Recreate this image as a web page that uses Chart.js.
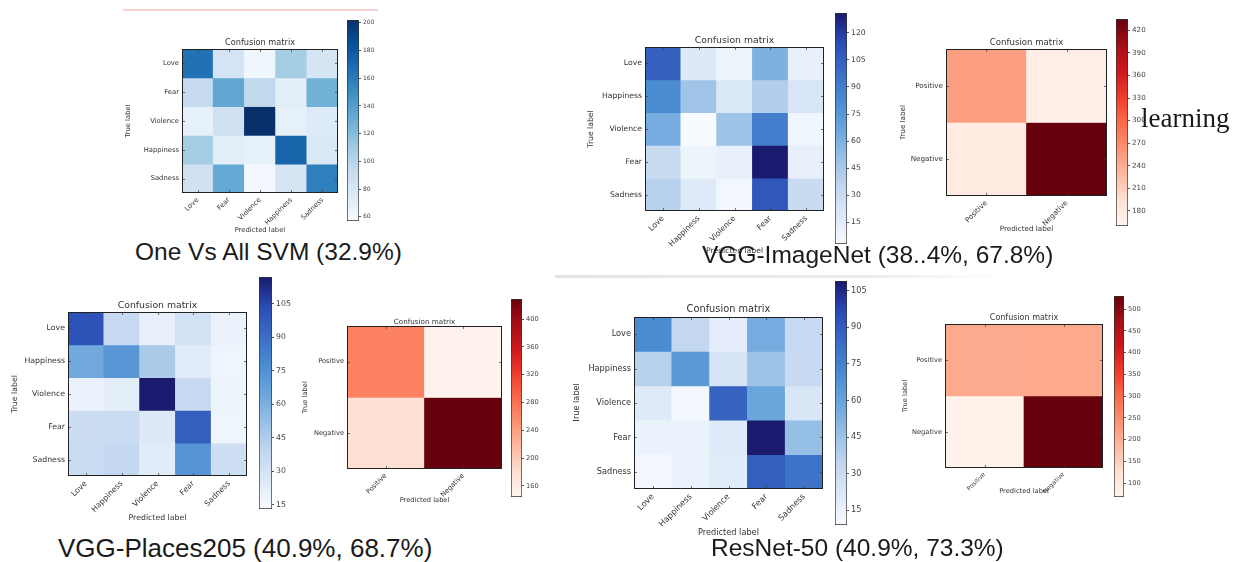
<!DOCTYPE html>
<html>
<head>
<meta charset="utf-8">
<script src="https://cdn.jsdelivr.net/npm/chart.js@4.4.0/dist/chart.umd.min.js"></script>
<style>
  html, body { margin: 0; padding: 0; background: #fff; overflow: hidden; }
  #page { position: relative; width: 1237px; height: 562px; }
  canvas { position: absolute; }
  .cap { position: absolute; font-family: 'Liberation Sans', Arial, sans-serif; color: #1a1a1a; white-space: nowrap; line-height: 1; }
</style>
</head>
<body>
<div id="page"></div>
<script>
// labels
const emoRowsSvm = ['Love', 'Fear', 'Violence', 'Happiness', 'Sadness'];
const emoRowsCnn = ['Love', 'Happiness', 'Violence', 'Fear', 'Sadness'];
const binRows = ['Positive', 'Negative'];

// confusion values, rows = true label, cols = predicted label
const svmValues = [
  [166, 83, 63, 108, 82],
  [93, 134, 95, 72, 127],
  [69, 86, 202, 70, 76],
  [108, 72, 70, 173, 79],
  [86, 132, 60, 82, 158]
];
const imagenetValues = [
  [105, 18, 9, 60, 13],
  [82, 48, 20, 41, 22],
  [63, 3, 49, 90, 7],
  [31, 9, 12, 131, 13],
  [39, 17, 6, 109, 31]
];
const imagenetBinValues = [
  [252, 172],
  [176, 435]
];
const placesValues = [
  [101, 36, 21, 31, 19],
  [63, 72, 46, 23, 17],
  [19, 22, 117, 36, 18],
  [34, 35, 25, 96, 17],
  [35, 38, 23, 73, 33]
];
const placesBinValues = [
  [265, 150],
  [178, 429]
];
const resnetValues = [
  [71, 33, 18, 56, 31],
  [37, 65, 24, 45, 31],
  [20, 11, 87, 59, 23],
  [15, 15, 20, 109, 47],
  [11, 15, 19, 89, 81]
];
const resnetBinValues = [
  [207, 209],
  [77, 530]
];

// colour bar ranges and tick labels
const svmRange = [57, 202];
const svmTicks = [60, 80, 100, 120, 140, 160, 180, 200];
const imagenetRange = [3, 131];
const imagenetTicks = [15, 30, 45, 60, 75, 90, 105, 120];
const imagenetBinRange = [160, 435];
const imagenetBinTicks = [180, 210, 240, 270, 300, 330, 360, 390, 420];
const placesRange = [13, 117];
const placesTicks = [15, 30, 45, 60, 75, 90, 105];
const placesBinRange = [144, 429];
const placesBinTicks = [160, 200, 240, 280, 320, 360, 400];
const resnetRange = [9, 109];
const resnetTicks = [15, 30, 45, 60, 75, 90, 105];
const resnetBinRange = [68, 530];
const resnetBinTicks = [100, 150, 200, 250, 300, 350, 400, 450, 500];

const captions = [
  'One Vs All SVM (32.9%)',
  'VGG-ImageNet (38..4%, 67.8%)',
  'VGG-Places205 (40.9%, 68.7%)',
  'ResNet-50 (40.9%, 73.3%)'
];

// colour maps
const BLUES = ['#f7fbff', '#deebf7', '#c6dbef', '#9ecae1', '#6baed6', '#4292c6', '#2171b5', '#08519c', '#08306b'];
const BLUES2 = ['#f7fbff', '#dce8f7', '#c2d6ef', '#98c0e6', '#6aa5dc', '#4a8ad0', '#3a6cc4', '#2a4bb5', '#1a1a6e'];
const REDS = ['#fff5f0', '#fee0d2', '#fcbba1', '#fc9272', '#fb6a4a', '#ef3b2c', '#cb181d', '#a50f15', '#67000d'];

const FONT = "'DejaVu Sans', sans-serif";
Chart.defaults.font.family = FONT;
Chart.defaults.color = '#333';

function hexRgb(h) {
  return [parseInt(h.slice(1, 3), 16), parseInt(h.slice(3, 5), 16), parseInt(h.slice(5, 7), 16)];
}
function cmap(stops, t) {
  t = Math.max(0, Math.min(1, t));
  const f = t * (stops.length - 1);
  const i = Math.min(Math.floor(f), stops.length - 2);
  const a = hexRgb(stops[i]), b = hexRgb(stops[i + 1]);
  const k = f - i;
  const c = a.map((v, j) => Math.round(v + (b[j] - v) * k));
  return `rgb(${c[0]},${c[1]},${c[2]})`;
}

function makeCanvas(x, y, w, h) {
  const c = document.createElement('canvas');
  x = Math.round(x); y = Math.round(y); w = Math.round(w); h = Math.round(h);
  c.width = w; c.height = h;
  c.style.left = x + 'px'; c.style.top = y + 'px';
  c.style.width = w + 'px'; c.style.height = h + 'px';
  document.getElementById('page').appendChild(c);
  return c;
}

// frame + small inward ticks like matplotlib
const framePlugin = {
  id: 'frame',
  afterDatasetsDraw(chart) {
    const { ctx, chartArea: a, scales: { x, y } } = chart;
    ctx.save();
    ctx.strokeStyle = 'rgba(60,60,60,0.7)';
    ctx.lineWidth = 1;
    ctx.beginPath();
    x.ticks.forEach((t, i) => {
      const px = Math.round(x.getPixelForTick(i)) + 0.5;
      ctx.moveTo(px, a.top); ctx.lineTo(px, a.top + 3);
      ctx.moveTo(px, a.bottom); ctx.lineTo(px, a.bottom - 3);
    });
    y.ticks.forEach((t, i) => {
      const py = Math.round(y.getPixelForTick(i)) + 0.5;
      ctx.moveTo(a.left, py); ctx.lineTo(a.left + 3, py);
      ctx.moveTo(a.right, py); ctx.lineTo(a.right - 3, py);
    });
    ctx.stroke();
    ctx.strokeStyle = '#222';
    ctx.strokeRect(Math.round(a.left) + 0.5, Math.round(a.top) + 0.5, Math.round(a.width) - 1, Math.round(a.height) - 1);
    ctx.restore();
  }
};

// "Confusion matrix" centred over the plot area (not the whole canvas)
const cmTitlePlugin = {
  id: 'cmTitle',
  afterDraw(chart, args, o) {
    const { ctx, chartArea: a } = chart;
    ctx.save();
    ctx.font = `${o.size}px ${FONT}`;
    ctx.fillStyle = '#333';
    ctx.textAlign = 'center';
    ctx.textBaseline = 'middle';
    ctx.fillText(o.text, (a.left + a.right) / 2, o.y);
    ctx.restore();
  }
};

function heatmap(p) {
  const tH = 20;
  const top = p.T - tH;
  const cv = makeCanvas(p.L - p.yW, top, p.yW + p.W + 2, tH + p.H + p.bH);
  const [lo, hi] = p.range;
  const xFont = p.fsX || p.fsTick;
  new Chart(cv, {
    type: 'bar',
    data: {
      labels: p.rows,
      datasets: p.values.map((row, r) => ({
        label: p.rows[r],
        data: row.map(() => 1),
        backgroundColor: row.map(v => cmap(p.cmap, (v - lo) / (hi - lo))),
        borderWidth: 0,
        barPercentage: 1,
        categoryPercentage: 1
      }))
    },
    options: {
      responsive: false,
      animation: false,
      layout: { padding: { left: 0, right: 2, top: tH, bottom: 0 } },
      plugins: {
        legend: { display: false },
        tooltip: { enabled: false },
        cmTitle: { text: 'Confusion matrix', size: p.fsTitle, y: p.titleY - top }
      },
      scales: {
        x: {
          stacked: true,
          grid: { display: false, drawTicks: false },
          border: { display: false },
          ticks: { minRotation: 45, maxRotation: 45, autoSkip: false, padding: 3, font: { size: xFont }, color: '#333' },
          title: { display: true, text: 'Predicted label', color: '#333', font: { size: p.fsTick, lineHeight: 1 }, padding: 0 },
          afterFit: s => { s.height = p.bH; }
        },
        y: {
          stacked: true,
          min: 0,
          max: p.rows.length,
          reverse: true,
          grid: { display: false, drawTicks: false },
          border: { display: false },
          afterBuildTicks: s => { s.ticks = p.rows.map((_, i) => ({ value: i + 0.5 })); },
          ticks: { autoSkip: false, padding: 3, font: { size: p.fsTick }, color: '#333', callback: (v, i) => p.rows[i] },
          title: { display: true, text: 'True label', color: '#333', font: { size: p.fsTick, lineHeight: 1 }, padding: 0 },
          afterFit: s => { s.width = p.yW; }
        }
      }
    },
    plugins: [framePlugin, cmTitlePlugin]
  });
}

function colorbar(p) {
  const c = p.cb;
  const labW = 28;
  const cv = makeCanvas(c.x, c.y - 8, c.w + labW, c.h + 16);
  new Chart(cv, {
    type: 'bar',
    data: {
      labels: [''],
      datasets: [{
        data: [p.range],
        backgroundColor: ctx => {
          const a = ctx.chart.chartArea;
          if (!a) return p.cmap[0];
          const g = ctx.chart.ctx.createLinearGradient(0, a.bottom, 0, a.top);
          p.cmap.forEach((s, i) => g.addColorStop(i / (p.cmap.length - 1), s));
          return g;
        },
        borderColor: '#333',
        borderWidth: 1,
        borderSkipped: false,
        barPercentage: 1,
        categoryPercentage: 1
      }]
    },
    options: {
      responsive: false,
      animation: false,
      layout: { padding: { left: 0, right: 0, top: 8, bottom: 8 } },
      plugins: { legend: { display: false }, tooltip: { enabled: false } },
      scales: {
        x: { display: false },
        y: {
          position: 'right',
          min: p.range[0],
          max: p.range[1],
          grid: { drawOnChartArea: false, drawTicks: true, tickLength: 2, color: '#555' },
          border: { display: false },
          afterBuildTicks: s => { s.ticks = p.ticks.map(v => ({ value: v })); },
          ticks: { padding: 2, font: { size: p.fsCb || p.fsTick }, color: '#444' },
          afterFit: s => { s.width = labW; }
        }
      }
    }
  });
}

const panels = [
  { values: svmValues, rows: emoRowsSvm, range: svmRange, ticks: svmTicks, cmap: BLUES,
    L: 182, T: 49, W: 156, H: 144, yW: 57, bH: 41, titleY: 43, fsTitle: 8.2, fsTick: 6.8, fsCb: 6,
    cb: { x: 347, y: 20, w: 12, h: 201 } },
  { values: imagenetValues, rows: emoRowsCnn, range: imagenetRange, ticks: imagenetTicks, cmap: BLUES2,
    L: 645, T: 47, W: 179, H: 164, yW: 58, bH: 44, titleY: 41, fsTitle: 9.3, fsTick: 7.7,
    cb: { x: 835, y: 13, w: 12, h: 231 } },
  { values: imagenetBinValues, rows: binRows, range: imagenetBinRange, ticks: imagenetBinTicks, cmap: REDS,
    L: 946, T: 49, W: 161, H: 147, yW: 46, bH: 37, titleY: 43, fsTitle: 8.6, fsTick: 7.2,
    cb: { x: 1116, y: 19, w: 12, h: 207 } },
  { values: placesValues, rows: emoRowsCnn, range: placesRange, ticks: placesTicks, cmap: BLUES2,
    L: 68, T: 312, W: 179, H: 164, yW: 57, bH: 46, titleY: 306, fsTitle: 9.3, fsTick: 7.8,
    cb: { x: 259, y: 277, w: 13, h: 232 } },
  { values: placesBinValues, rows: binRows, range: placesBinRange, ticks: placesBinTicks, cmap: REDS,
    L: 347, T: 326, W: 155, H: 143, yW: 45, bH: 35, titleY: 322, fsTitle: 7.2, fsTick: 6.7,
    cb: { x: 511, y: 299, w: 11, h: 198 } },
  { values: resnetValues, rows: emoRowsCnn, range: resnetRange, ticks: resnetTicks, cmap: BLUES2,
    L: 634, T: 317, W: 189, H: 172, yW: 61, bH: 48, titleY: 309, fsTitle: 9.8, fsTick: 8.2,
    cb: { x: 835, y: 281, w: 12, h: 244 } },
  { values: resnetBinValues, rows: binRows, range: resnetBinRange, ticks: resnetBinTicks, cmap: REDS,
    L: 945, T: 324, W: 158, H: 144, yW: 43, bH: 27, titleY: 318, fsTitle: 8, fsTick: 6.7, fsX: 6,
    cb: { x: 1114, y: 296, w: 10, h: 201 } }
];

panels.forEach(p => { heatmap(p); colorbar(p); });

// captions and page decorations
const page = document.getElementById('page');
function addText(text, left, baseline, size, family) {
  const d = document.createElement('div');
  d.className = 'cap';
  if (family) d.style.fontFamily = family;
  d.style.fontSize = size + 'px';
  d.style.left = left + 'px';
  d.style.top = (baseline - size * 0.85) + 'px';
  d.textContent = text;
  page.appendChild(d);
}
addText(captions[0], 135, 261, 24.5);
addText(captions[1], 702, 264, 24.5);
addText(captions[2], 58, 557, 26);
addText(captions[3], 711, 557, 24.5);
addText('learning', 1141, 128, 27, "'Liberation Serif', 'Times New Roman', serif");

function addRule(x, y, w, h, bg) {
  const d = document.createElement('div');
  d.style.cssText = `position:absolute;left:${x}px;top:${y}px;width:${w}px;height:${h}px;background:${bg}`;
  page.appendChild(d);
}
addRule(123, 9, 255, 2, '#f6d0d0');
addRule(555, 275, 450, 3, 'linear-gradient(to right, #e4e4e4, #ececec 70%, #ffffff)');
</script>
</body>
</html>
